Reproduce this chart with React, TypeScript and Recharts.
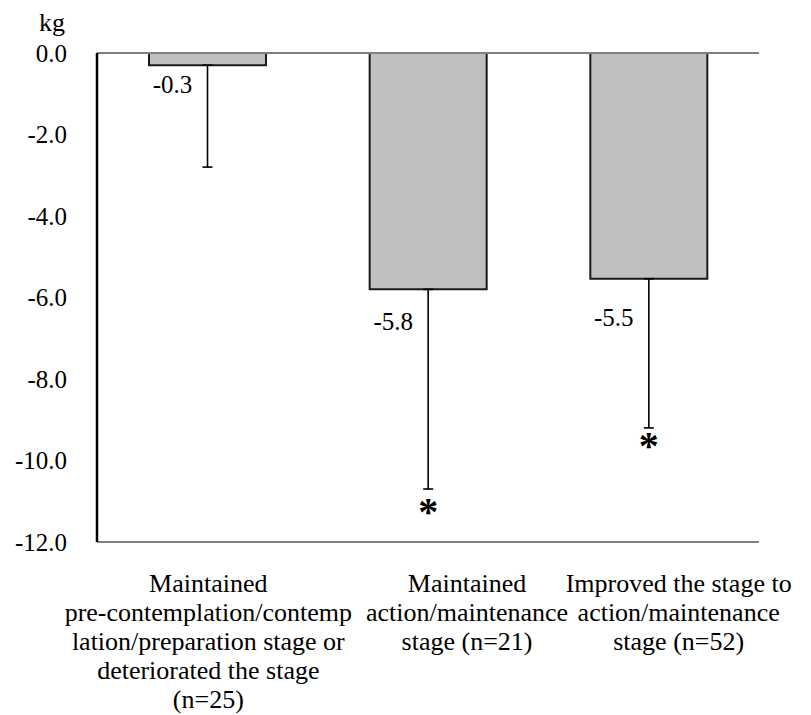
import React from 'react';
import {
  ComposedChart,
  Bar,
  XAxis,
  YAxis,
  CartesianGrid,
  ErrorBar,
  LabelList,
  ReferenceLine,
} from 'recharts';

// ---- data ----
const groups = [
  'Maintained pre-contemplation/contemplation/preparation stage or deteriorated the stage (n=25)',
  'Maintained action/maintenance stage (n=21)',
  'Improved the stage to action/maintenance stage (n=52)',
];
const categoryLines = [
  ['Maintained', 'pre-contemplation/contemp', 'lation/preparation stage or', 'deteriorated the stage', '(n=25)'],
  ['Maintained', 'action/maintenance', 'stage (n=21)'],
  ['Improved the stage to', 'action/maintenance', 'stage (n=52)'],
];
const meanChange = [-0.3, -5.8, -5.54];
const valueLabels = ['-0.3', '-5.8', '-5.5'];
const sdDown = [2.5, 4.9, 3.66];
const significance = ['', '*', '*'];
const yTicks = [0, -2, -4, -6, -8, -10, -12];
const unitLabel = 'kg';

// ---- styles ----
const FONT = 'Tinos, Liberation Serif, Times New Roman, serif';
const labelDx = [-35, -35, -35];
const labelDy = [28, 41, 47];
const starDy = [0, 36, 31];
const catDx = [1, 39, 30];

const data = groups.map((g, i) => ({
  group: g,
  value: meanChange[i],
  err: [sdDown[i], 0],
}));

const CategoryTick = (props: any) => {
  const { x, y, index } = props;
  const lines = categoryLines[index] || [];
  return (
    <g>
      {lines.map((ln, j) => (
        <text
          key={j}
          x={x + catDx[index]}
          y={y + 50 + j * 29}
          textAnchor="middle"
          fontFamily={FONT}
          fontSize={26}
          fill="#000"
        >
          {ln}
        </text>
      ))}
    </g>
  );
};

const BarLabels = (props: any) => {
  const vb = props.viewBox || props;
  const index = props.index;
  const x = Number(vb.x);
  const y = Number(vb.y);
  const w = Number(vb.width);
  const h = Number(vb.height);
  const cx = x + w / 2;
  const bottom = Math.max(y, y + h);
  const ppu = Math.abs(h) / Math.abs(meanChange[index]);
  const errEnd = bottom + sdDown[index] * ppu;
  return (
    <g>
      <text
        x={cx + labelDx[index]}
        y={bottom + labelDy[index]}
        textAnchor="middle"
        fontFamily={FONT}
        fontSize={25}
        fill="#000"
      >
        {valueLabels[index]}
      </text>
      {significance[index] ? (
        <text
          x={cx}
          y={errEnd + starDy[index]}
          textAnchor="middle"
          fontFamily={FONT}
          fontSize={40}
          fontWeight="bold"
          fill="#000"
        >
          {significance[index]}
        </text>
      ) : null}
    </g>
  );
};

export default function App() {
  return (
    <ComposedChart
      width={795}
      height={707}
      data={data}
      margin={{ top: 45, right: 44, bottom: 8, left: 0 }}
      barCategoryGap={0}
      style={{ overflow: 'visible' }}
    >
      <CartesianGrid horizontal vertical={false} stroke="#111" strokeWidth={1.4} />
      <XAxis
        dataKey="group"
        height={165}
        interval={0}
        tickLine={false}
        tickSize={0}
        tickMargin={0}
        axisLine={{ stroke: '#808080', strokeWidth: 2 }}
        tick={<CategoryTick />}
      />
      <YAxis
        yAxisId="left"
        width={89}
        domain={[-12, 0]}
        ticks={yTicks}
        interval={0}
        tickLine={false}
        tickSize={0}
        tickMargin={30}
        tickFormatter={(v: number) => v.toFixed(1)}
        tick={{ fontFamily: FONT, fontSize: 25, fill: '#000' }}
        axisLine={{ stroke: '#000', strokeWidth: 2.5 }}
        label={{
          content: (p: any) => {
            const vb = p.viewBox || {};
            return (
              <text
                x={Number(vb.x) + Number(vb.width) - 32}
                y={Number(vb.y) - 22}
                textAnchor="end"
                fontFamily={FONT}
                fontSize={26}
                fill="#000"
              >
                {unitLabel}
              </text>
            );
          },
        }}
      />
      <YAxis
        yAxisId="right"
        orientation="right"
        width={0}
        domain={[-12, 0]}
        ticks={yTicks}
        tick={false}
        tickLine={false}
        axisLine={{ stroke: '#808080', strokeWidth: 2 }}
      />
      <ReferenceLine yAxisId="left" y={0} stroke="#808080" strokeWidth={2} />
      <Bar
        yAxisId="left"
        dataKey="value"
        fill="#c0c0c0"
        stroke="#1a1a1a"
        strokeWidth={2}
        barSize={117}
        isAnimationActive={false}
      >
        <ErrorBar
          dataKey="err"
          direction="y"
          width={5}
          stroke="#000"
          strokeWidth={1.6}
          isAnimationActive={false}
        />
        <LabelList dataKey="value" content={<BarLabels />} />
      </Bar>
    </ComposedChart>
  );
}
